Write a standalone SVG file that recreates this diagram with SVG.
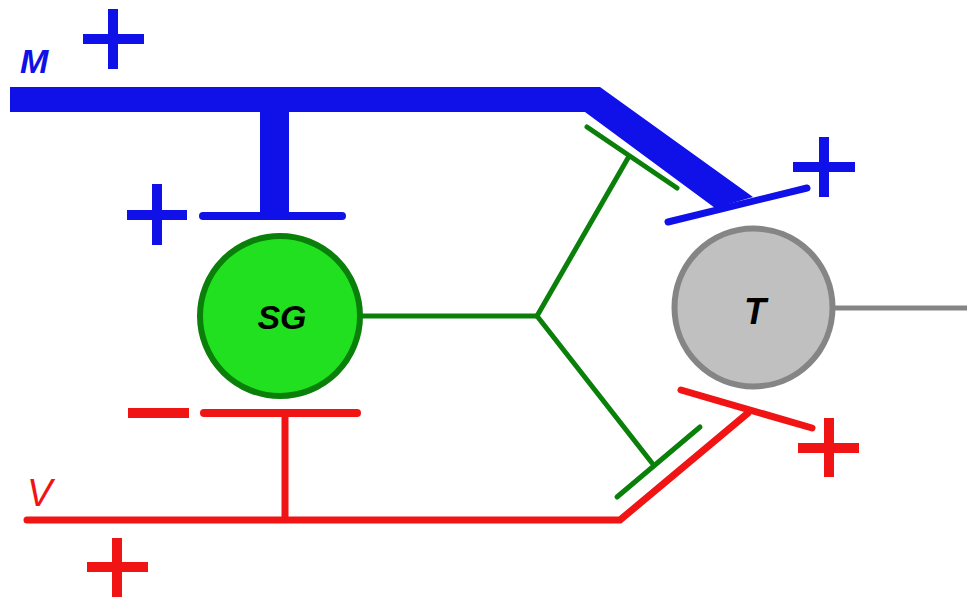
<svg xmlns="http://www.w3.org/2000/svg" width="967" height="600" viewBox="0 0 967 600">
<style>
.b{stroke:#1010e8;fill:none}
.r{stroke:#f01414;fill:none}
.g{stroke:#0a800a;fill:none;stroke-width:5;stroke-linecap:round}
.sign{stroke-width:10;stroke-linecap:butt}
.lbl{font-family:"Liberation Sans",Arial,sans-serif;font-style:italic;font-weight:bold}
</style>
<rect width="967" height="600" fill="#ffffff"/>
<g id="connectors">
  <!-- M pathway (blue) -->
  <polygon points="10,87 600,87 753,197 715,208 585,112 10,112" fill="#1010e8"/>
  <line class="b" x1="274.5" y1="105" x2="274.5" y2="214" stroke-width="29"/>
  <line class="b" x1="203" y1="216" x2="342" y2="216" stroke-width="8" stroke-linecap="round"/>
  <line class="b" x1="668" y1="222" x2="807" y2="188" stroke-width="7" stroke-linecap="round"/>
  <!-- SG outputs (green) -->
  <line class="g" x1="362" y1="316" x2="537" y2="316"/>
  <line class="g" x1="537" y1="316" x2="628" y2="158"/>
  <line class="g" x1="537" y1="316" x2="652" y2="463"/>
  <line class="g" x1="587" y1="127" x2="677" y2="188" stroke-width="6"/>
  <line class="g" x1="617" y1="497" x2="700" y2="427" stroke-width="6"/>
  <!-- V pathway (red) -->
  <polyline class="r" points="27,520 620,520 748,413" stroke-width="7" stroke-linecap="round" stroke-linejoin="miter"/>
  <line class="r" x1="285" y1="413" x2="285" y2="520" stroke-width="7"/>
  <line class="r" x1="204" y1="413" x2="357" y2="413" stroke-width="8" stroke-linecap="round"/>
  <line class="r" x1="681" y1="390" x2="812" y2="428" stroke-width="7" stroke-linecap="round"/>
  <!-- T output (gray) -->
  <line x1="835" y1="308" x2="967" y2="308" stroke="#858585" stroke-width="5"/>
</g>
<g id="signs">
  <path class="b sign" d="M113,9 V69 M83,39 H144"/>
  <path class="b sign" d="M157,184 V245 M127,215 H187"/>
  <path class="b sign" d="M824,137 V197 M793,167 H855"/>
  <path class="r sign" d="M128,413 H189"/>
  <path class="r sign" d="M829,418 V477 M798,448 H859"/>
  <path class="r sign" d="M117,538 V597 M87,567 H148"/>
</g>
<g id="label-M">
  <text class="lbl" x="20" y="73" font-size="34" fill="#1010e8">M</text>
</g>
<g id="label-V">
  <text x="27" y="506" font-family="Liberation Sans,Arial,sans-serif" font-style="italic" font-size="38" fill="#f01414">V</text>
</g>
<g id="node-SG">
  <circle cx="280" cy="316" r="80" fill="#20e020" stroke="#0a800a" stroke-width="6"/>
  <text class="lbl" x="282" y="329" font-size="34" text-anchor="middle" fill="#000">SG</text>
</g>
<g id="node-T">
  <circle cx="753.5" cy="307.5" r="79" fill="#c0c0c0" stroke="#858585" stroke-width="6"/>
  <text class="lbl" x="755" y="324" font-size="36" text-anchor="middle" fill="#000">T</text>
</g>
</svg>
